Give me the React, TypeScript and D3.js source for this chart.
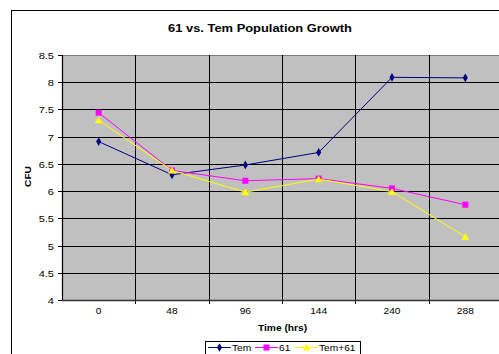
import React, { useEffect, useRef } from "react";
import * as d3 from "d3";

const categories = ["0", "48", "96", "144", "240", "288"];
const tem = [6.91, 6.3, 6.48, 6.71, 8.09, 8.08];
const s61 = [7.44, 6.38, 6.19, 6.23, 6.05, 5.75];
const temPlus61 = [7.3, 6.38, 5.98, 6.22, 5.99, 5.16];
const yTicks = [4, 4.5, 5, 5.5, 6, 6.5, 7, 7.5, 8, 8.5];

const series = [
  { name: "Tem", values: tem, color: "#000080", marker: "diamond" },
  { name: "61", values: s61, color: "#ff00ff", marker: "square" },
  { name: "Tem+61", values: temPlus61, color: "#ffff00", marker: "triangle" },
];

export default function App() {
  const svgRef = useRef<SVGSVGElement>(null);

  useEffect(() => {
    if (!svgRef.current) return;
    const svg = d3.select(svgRef.current);
    svg.selectAll("*").remove();

    const W = 499;
    const H = 354;
    const font = "'Liberation Sans', Arial, sans-serif";

    // excel-ish text is rendered a bit wide, so stretch it horizontally
    const label = (
      parent: d3.Selection<any, unknown, null, undefined>,
      txt: string, tx: number, ty: number,
      opts: { size?: number; bold?: boolean; anchor?: string; sx?: number; rotate?: number } = {}
    ) => {
      const { size = 8.5, bold = false, anchor = "start", sx = 1.2, rotate = 0 } = opts;
      return parent.append("text")
        .attr("transform", `translate(${tx},${ty}) rotate(${rotate}) scale(${sx},1)`)
        .attr("text-anchor", anchor)
        .attr("font-family", font)
        .attr("font-size", size)
        .attr("font-weight", bold ? "bold" : "normal")
        .attr("fill", "#000")
        .text(txt);
    };

    svg.append("rect").attr("width", W).attr("height", H).attr("fill", "#fff");
    // chart area border
    svg.append("rect")
      .attr("x", 11.5).attr("y", 10.5)
      .attr("width", 520).attr("height", 380)
      .attr("fill", "none").attr("stroke", "#000").attr("stroke-width", 1);

    const left = 62, right = 502, top = 55, bottom = 300;

    const x = d3.scaleBand().domain(categories).range([left, right]);
    const y = d3.scaleLinear().domain([4, 8.5]).range([bottom, top]);

    svg.append("rect")
      .attr("x", left).attr("y", top)
      .attr("width", right - left).attr("height", bottom - top)
      .attr("fill", "#c0c0c0");

    // horizontal grid
    svg.append("g")
      .selectAll("line")
      .data(yTicks.filter(t => t > 4))
      .join("line")
      .attr("x1", left).attr("x2", right)
      .attr("y1", d => Math.round(y(d)) + 0.5).attr("y2", d => Math.round(y(d)) + 0.5)
      .attr("stroke", d => (d === 8.5 ? "#808080" : "#000"))
      .attr("stroke-width", 1);

    // vertical grid at category boundaries
    const bounds = categories.map(c => x(c)!).slice(1);
    svg.append("g")
      .selectAll("line")
      .data(bounds)
      .join("line")
      .attr("x1", d => Math.round(d) + 0.5).attr("x2", d => Math.round(d) + 0.5)
      .attr("y1", top).attr("y2", bottom + 4)
      .attr("stroke", "#000").attr("stroke-width", 1);

    // axes
    svg.append("line")
      .attr("x1", left + 0.5).attr("x2", left + 0.5)
      .attr("y1", top).attr("y2", bottom + 1)
      .attr("stroke", "#000").attr("stroke-width", 1.2);
    svg.append("line")
      .attr("x1", left).attr("x2", right)
      .attr("y1", bottom + 0.5).attr("y2", bottom + 0.5)
      .attr("stroke", "#333").attr("stroke-width", 1.5);

    // y ticks and labels
    const yg = svg.append("g");
    yTicks.forEach(t => {
      const yy = Math.round(y(t)) + 0.5;
      yg.append("line").attr("x1", left - 4).attr("x2", left).attr("y1", yy).attr("y2", yy).attr("stroke", "#000");
      label(yg, String(t), left - 8, yy + 3, { anchor: "end", sx: 1.3 });
    });

    // x labels
    const xg = svg.append("g");
    categories.forEach(c => label(xg, c, x(c)! + x.bandwidth() / 2, 314, { anchor: "middle", sx: 1.2 }));

    // titles
    label(svg, "61 vs. Tem Population Growth", 260, 32, { size: 10, bold: true, anchor: "middle", sx: 1.29 });
    label(svg, "Time (hrs)", 282.5, 330.5, { size: 8.5, bold: true, anchor: "middle", sx: 1.2 });
    label(svg, "CFU", 31, 176.5, { size: 8.5, bold: true, anchor: "middle", sx: 1.2, rotate: -90 });

    const drawMarker = (g: d3.Selection<SVGGElement, unknown, null, undefined>, kind: string, cx: number, cy: number, color: string) => {
      if (kind === "diamond") {
        g.append("path").attr("d", d3.symbol(d3.symbolDiamond, 22)()!).attr("transform", `translate(${cx},${cy})`).attr("fill", color);
      } else if (kind === "square") {
        g.append("rect").attr("x", cx - 3).attr("y", cy - 3).attr("width", 6).attr("height", 6).attr("fill", color);
      } else {
        g.append("path").attr("d", `M${cx},${cy - 3.5}L${cx + 4},${cy + 3}L${cx - 4},${cy + 3}Z`).attr("fill", color);
      }
    };

    const line = d3.line<number>()
      .x((_, i) => x(categories[i])! + x.bandwidth() / 2)
      .y(d => y(d));

    series.forEach(s => {
      const g = svg.append("g");
      g.append("path").datum(s.values).attr("d", line).attr("fill", "none").attr("stroke", s.color).attr("stroke-width", 1);
      s.values.forEach((v, i) => drawMarker(g, s.marker, x(categories[i])! + x.bandwidth() / 2, y(v), s.color));
    });

    // legend
    const lg = svg.append("g");
    lg.append("rect").attr("x", 205.5).attr("y", 341.5).attr("width", 155).attr("height", 20)
      .attr("fill", "#fff").attr("stroke", "#000").attr("stroke-width", 1);
    const items = [
      { s: series[0], x0: 208 },
      { s: series[1], x0: 255 },
      { s: series[2], x0: 295 },
    ];
    items.forEach(({ s, x0 }) => {
      lg.append("line").attr("x1", x0).attr("x2", x0 + 23).attr("y1", 347.5).attr("y2", 347.5).attr("stroke", s.color);
      drawMarker(lg, s.marker, x0 + 11.5, 347.5, s.color);
      label(lg, s.name, x0 + 24, 351, { sx: 1.2 });
    });
  }, []);

  return (
    <div style={{ position: "absolute", left: 0, top: 0 }}>
      <svg ref={svgRef} width={499} height={354} style={{ display: "block" }} />
    </div>
  );
}
